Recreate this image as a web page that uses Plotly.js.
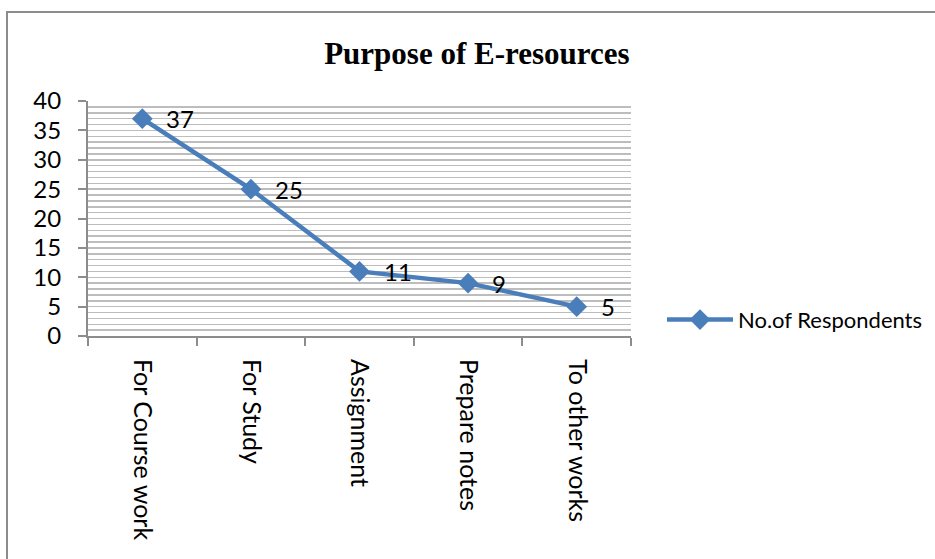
<!DOCTYPE html>
<html>
<head>
<meta charset="utf-8">
<script src="https://cdn.plot.ly/plotly-3.0.1.min.js"></script>
<style>
  html, body { margin: 0; padding: 0; background: #fff; }
  #wrap { position: relative; width: 935px; height: 559px; overflow: hidden; }
  #chart { position: absolute; left: 0; top: 0; width: 935px; height: 559px; }
  #frame { position: absolute; left: 6px; top: 11px; width: 940px; height: 560px;
           border-left: 2px solid #8c8c8c; border-top: 2px solid #8c8c8c; pointer-events: none; }
</style>
</head>
<body>
<div id="wrap">
  <div id="chart"></div>
  <div id="frame"></div>
</div>
<script>
// Purpose of using e-resources, number of respondents per purpose
const purposes = ["For Course work", "For Study", "Assignment", "Prepare notes", "To other works"];
const respondents = [37, 25, 11, 9, 5];
const seriesName = "No.of Respondents";
const yTicks = [0, 5, 10, 15, 20, 25, 30, 35, 40];

const blue = "#4A7EBB";
const labelFont = "Lato, 'Open Sans', sans-serif";

const trace = {
  type: "scatter",
  mode: "lines+markers",
  name: seriesName,
  x: purposes,
  y: respondents,
  line: { color: blue, width: 4.5 },
  marker: { symbol: "diamond", size: 16, color: blue },
  cliponaxis: false
};

// value labels sit to the right of each point
const valueLabels = purposes.map((p, i) => ({
  x: p,
  y: respondents[i],
  xref: "x",
  yref: "y",
  text: String(respondents[i]),
  showarrow: false,
  xanchor: "left",
  yanchor: "middle",
  xshift: 22,
  font: { family: labelFont, size: 24, color: "#000" }
}));

const layout = {
  width: 935,
  height: 559,
  paper_bgcolor: "#fff",
  plot_bgcolor: "#fff",
  margin: { l: 88, r: 304, t: 101, b: 223, autoexpand: false },
  title: {
    text: "<b>Purpose of E-resources</b>",
    font: { family: "'Liberation Serif', 'Times New Roman', serif", size: 31, color: "#000" },
    x: 0.51, xanchor: "center",
    y: 0.905, yanchor: "middle"
  },
  annotations: valueLabels,
  showlegend: true,
  legend: {
    xref: "container", yref: "container",
    x: 0.708, xanchor: "left",
    y: 0.428, yanchor: "middle",
    font: { family: labelFont, size: 22, color: "#000" },
    bgcolor: "rgba(0,0,0,0)",
    itemwidth: 66
  },
  xaxis: {
    type: "category",
    range: [-0.5, 4.5],
    tickangle: 90,
    tickfont: { family: labelFont, size: 25, color: "#000" },
    ticklabelstandoff: 16,
    showline: true, linecolor: "#8c8c8c", linewidth: 2,
    showgrid: false,
    ticks: "outside", ticklen: 8, tickcolor: "#8c8c8c", tickwidth: 2,
    tickson: "boundaries",
    zeroline: false,
    automargin: false,
    fixedrange: true
  },
  yaxis: {
    range: [0, 40],
    tickvals: yTicks,
    ticktext: yTicks.map(String),
    tickfont: { family: labelFont, size: 24, color: "#000" },
    ticklabelstandoff: 12,
    showline: true, linecolor: "#8c8c8c", linewidth: 2,
    ticks: "outside", ticklen: 8, tickcolor: "#8c8c8c", tickwidth: 2,
    showgrid: true, gridcolor: "#bdbdbd", gridwidth: 1.5,
    minor: { dtick: 1, showgrid: true, gridcolor: "#bdbdbd", gridwidth: 1.5 },
    zeroline: false,
    automargin: false,
    fixedrange: true
  }
};

Plotly.newPlot("chart", [trace], layout, { staticPlot: true, displayModeBar: false });
</script>
</body>
</html>
